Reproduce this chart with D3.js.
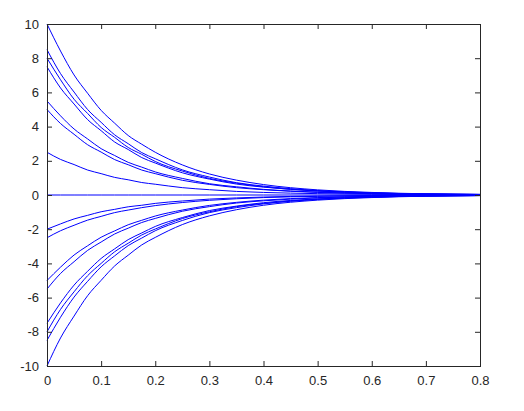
<!DOCTYPE html>
<html><head><meta charset="utf-8">
<script src="https://cdn.jsdelivr.net/npm/d3@7"></script>
<style>body{margin:0;background:#fff}svg{display:block}</style>
</head><body>
<svg id="c" width="524" height="411"></svg>
<script>
const xs = [0, 0.025, 0.05, 0.075, 0.1, 0.125, 0.15, 0.175, 0.2, 0.25, 0.3, 0.35, 0.4, 0.5, 0.6, 0.7, 0.8];
const p10  = [10, 8.42, 7.02, 5.95, 4.95, 4.20, 3.48, 2.97, 2.50, 1.76, 1.23, 0.87, 0.61, 0.30, 0.15, 0.07, 0.04];
const p85  = [8.5, 7.10, 6.02, 5.00, 4.25, 3.52, 3.00, 2.48, 2.12, 1.47, 1.05, 0.72, 0.52, 0.26, 0.13, 0.06, 0.03];
const p80  = [8, 6.74, 5.60, 4.77, 3.95, 3.37, 2.78, 2.38, 1.96, 1.40, 0.97, 0.69, 0.48, 0.24, 0.12, 0.06, 0.03];
const p75  = [7.5, 6.26, 5.32, 4.41, 3.76, 3.10, 2.66, 2.19, 1.87, 1.30, 0.93, 0.64, 0.46, 0.23, 0.11, 0.06, 0.03];
const p55  = [5.5, 4.63, 3.86, 3.28, 2.71, 2.31, 1.91, 1.63, 1.35, 0.97, 0.66, 0.48, 0.33, 0.17, 0.08, 0.04, 0.02];
const p50  = [5, 4.18, 3.55, 2.94, 2.51, 2.07, 1.77, 1.46, 1.25, 0.86, 0.62, 0.43, 0.31, 0.15, 0.08, 0.04, 0.02];
const p25  = [2.5, 2.08, 1.78, 1.46, 1.25, 1.03, 0.89, 0.73, 0.63, 0.43, 0.31, 0.21, 0.15, 0.08, 0.04, 0.02, 0.01];
const z0   = [0, 0, 0, 0, 0, 0, 0, 0, 0, 0, 0, 0, 0, 0, 0, 0, 0];
const m20  = [-2, -1.69, -1.40, -1.19, -0.98, -0.84, -0.69, -0.60, -0.49, -0.35, -0.24, -0.17, -0.12, -0.06, -0.03, -0.01, -0.01];
const m25  = [-2.5, -2.09, -1.77, -1.47, -1.25, -1.03, -0.88, -0.74, -0.62, -0.44, -0.31, -0.22, -0.15, -0.08, -0.04, -0.02, -0.01];
const m50  = [-5, -4.22, -3.51, -2.97, -2.47, -2.10, -1.74, -1.48, -1.23, -0.88, -0.61, -0.43, -0.30, -0.15, -0.08, -0.04, -0.02];
const m55  = [-5.5, -4.59, -3.90, -3.24, -2.75, -2.28, -1.94, -1.61, -1.37, -0.95, -0.68, -0.47, -0.34, -0.17, -0.08, -0.04, -0.02];
const m75  = [-7.5, -6.31, -5.27, -4.46, -3.71, -3.15, -2.61, -2.22, -1.84, -1.32, -0.91, -0.65, -0.45, -0.23, -0.11, -0.06, -0.03];
const m80  = [-8, -6.69, -5.66, -4.72, -4.00, -3.32, -2.82, -2.34, -1.99, -1.38, -0.98, -0.68, -0.49, -0.24, -0.12, -0.06, -0.03];
const m85  = [-8.5, -7.15, -5.97, -5.05, -4.20, -3.56, -2.96, -2.52, -2.09, -1.49, -1.03, -0.74, -0.52, -0.26, -0.13, -0.06, -0.03];
const m100 = [-10, -8.36, -7.08, -5.89, -4.99, -4.15, -3.52, -2.92, -2.48, -1.73, -1.22, -0.86, -0.60, -0.30, -0.15, -0.07, -0.04];
const series = [p10, p85, p80, p75, p55, p50, p25, z0, m20, m25, m50, m55, m75, m80, m85, m100];
const xTicks = [0, 0.1, 0.2, 0.3, 0.4, 0.5, 0.6, 0.7, 0.8];
const yTicks = [-10, -8, -6, -4, -2, 0, 2, 4, 6, 8, 10];

const L = 47, R = 480, T = 24, B = 366;
const svg = d3.select('#c');
const x = d3.scaleLinear().domain([0, 0.8]).range([L, R]);
const y = d3.scaleLinear().domain([-10, 10]).range([B, T]);
const axisColor = '#262626';
const font = '"Liberation Sans", Arial, sans-serif';

const line = d3.line().x((d, i) => x(xs[i])).y(d => y(d)).curve(d3.curveMonotoneX);
svg.append('g').selectAll('path').data(series).join('path')
  .attr('d', line).attr('fill', 'none').attr('stroke', '#0000ff').attr('stroke-width', 1);

function styleAxis(g, noText) {
  g.select('.domain').remove();
  g.selectAll('.tick line').attr('stroke', axisColor);
  g.selectAll('.tick text').attr('fill', axisColor).style('font-family', font).style('font-size', '13px');
  if (noText) g.selectAll('.tick text').remove();
}
const fmt = d => String(d);
svg.append('g').attr('transform', `translate(0,${B})`)
  .call(d3.axisBottom(x).tickValues(xTicks).tickFormat(fmt).tickSizeInner(-5).tickPadding(10))
  .call(g => styleAxis(g));
svg.append('g').attr('transform', `translate(0,${T})`)
  .call(d3.axisTop(x).tickValues(xTicks).tickSizeInner(-5))
  .call(g => styleAxis(g, true));
svg.append('g').attr('transform', `translate(${L},0)`)
  .call(d3.axisLeft(y).tickValues(yTicks).tickFormat(fmt).tickSizeInner(-5).tickPadding(8))
  .call(g => styleAxis(g));
svg.append('g').attr('transform', `translate(${R},0)`)
  .call(d3.axisRight(y).tickValues(yTicks).tickSizeInner(-5))
  .call(g => styleAxis(g, true));

svg.append('rect').attr('x', L + 0.5).attr('y', T + 0.5).attr('width', R - L).attr('height', B - T)
  .attr('fill', 'none').attr('stroke', axisColor).attr('stroke-width', 1);
</script>
</body></html>
